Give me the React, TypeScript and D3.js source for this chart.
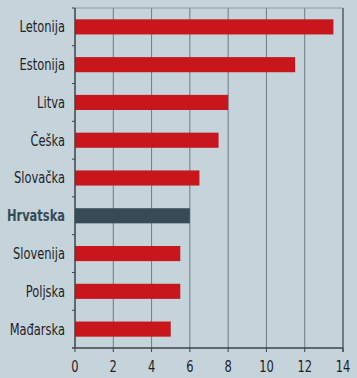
import React from "react";
import * as d3 from "d3";

const categories = ["Letonija", "Estonija", "Litva", "Češka", "Slovačka", "Hrvatska", "Slovenija", "Poljska", "Mađarska"];
const values = [13.5, 11.5, 8.0, 7.5, 6.5, 6.0, 5.5, 5.5, 5.0];
const highlight = "Hrvatska";
const xTicks = [0, 2, 4, 6, 8, 10, 12, 14];

const W = 357, H = 378;
const M = { left: 75, right: 14, top: 8, bottom: 30 };
const FONT = "'DejaVu Sans Condensed', 'DejaVu Sans', sans-serif";
const SX = 0.85;

export default function App() {
  const x = d3.scaleLinear().domain([0, 14]).range([M.left, W - M.right]);
  const y = d3.scaleBand<string>().domain(categories).range([M.top, H - M.bottom]).paddingInner(0.6).paddingOuter(0.3);
  const band = d3.scaleBand<string>().domain(categories).range([M.top, H - M.bottom]);
  const bottom = H - M.bottom;
  return (
    <svg width={W} height={H} style={{ position: "absolute", left: 0, top: 0, background: "#c5d3db" }}>
      <rect x={0} y={0} width={W} height={H} fill="#c5d3db" />
      {xTicks.slice(1, -1).map((t) => (
        <line key={t} x1={x(t)} x2={x(t)} y1={M.top} y2={bottom} stroke="#6f7b83" strokeWidth={1} />
      ))}
      <line x1={M.left} x2={x(14)} y1={M.top} y2={M.top} stroke="#8f9ba2" strokeWidth={1} />
      <line x1={x(14)} x2={x(14)} y1={M.top} y2={bottom + 4} stroke="#6f7b83" strokeWidth={2} />
      {categories.map((c, i) => (
        <rect key={c} x={x(0)} y={y(c)!} width={x(values[i]) - x(0)} height={y.bandwidth()}
          fill={c === highlight ? "#364b56" : "#c8161d"} />
      ))}
      <line x1={M.left} x2={M.left} y1={M.top} y2={bottom} stroke="#3c4449" strokeWidth={1.5} />
      {categories.map((c) => (
        <line key={"t" + c} x1={M.left - 3} x2={M.left} y1={band(c)!} y2={band(c)!} stroke="#3c4449" strokeWidth={1} />
      ))}
      <g transform={`scale(${SX},1)`}>
        {categories.map((c) => (
          <text key={"l" + c} x={(M.left - 10) / SX} y={band(c)! + band.bandwidth() / 2} dy="0.36em" textAnchor="end"
            fontFamily={FONT} fontSize={15} fontWeight={c === highlight ? "bold" : "normal"}
            fill={c === highlight ? "#364b56" : "#1e2225"}>{c}</text>
        ))}
        {xTicks.map((t) => (
          <text key={"x" + t} x={x(t) / SX} y={bottom + 19} dy="0.36em" textAnchor="middle" fontFamily={FONT} fontSize={15} fill="#1e2225">{t}</text>
        ))}
      </g>
      <line x1={M.left - 3} x2={x(14)} y1={bottom} y2={bottom} stroke="#3c4449" strokeWidth={1.5} />
      {xTicks.map((t) => (
        <line key={"xt" + t} x1={x(t)} x2={x(t)} y1={bottom} y2={bottom + 4} stroke="#3c4449" strokeWidth={1} />
      ))}
    </svg>
  );
}
